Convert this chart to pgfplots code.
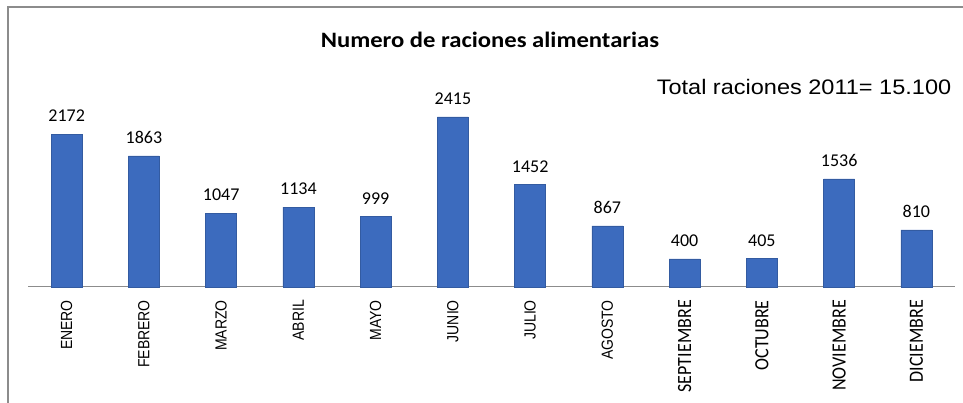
\documentclass[border=0pt]{standalone}
\usepackage{pgfplots}
\pgfplotsset{compat=1.18}
\usepackage{fontspec}
\setmainfont{Liberation Sans}
\newfontfamily\calfont{Carlito}
\definecolor{barblue}{RGB}{60,107,190}
\definecolor{framegray}{RGB}{140,140,140}
\newcommand\ML[1]{\scalebox{1}[1.15]{#1}}
\newcommand\MC[1]{\scalebox{1}[1.12]{\calfont\fontsize{18}{20}\selectfont #1}}
\begin{document}
\begin{tikzpicture}[x=1pt,y=1pt]
\path[use as bounding box] (0,0) rectangle (963,403);
\draw[framegray, line width=1.5pt] (8,0) -- (8,396) -- (963,396);
\node[font=\calfont\bfseries\fontsize{22}{24}\selectfont] at (490,363) {\scalebox{1.12}[1]{Numero de raciones alimentarias}};
\node[font=\fontsize{21}{24}\selectfont] at (804,316) {\scalebox{1.12}[1]{Total raciones 2011= 15.100}};
\begin{axis}[
  at={(28pt,116pt)}, anchor=south west,
  scale only axis, width=927pt, height=211.2pt,
  xmin=-0.5, xmax=11.5, ymin=0, ymax=3000,
  axis x line*=bottom, axis y line=none,
  x axis line style={framegray, line width=1pt},
  xtick={0,...,11}, major tick length=0pt,
  xticklabels={\ML{ENERO},\ML{FEBRERO},\ML{MARZO},\ML{ABRIL},\ML{MAYO},\ML{JUNIO},\ML{JULIO},\ML{AGOSTO},\MC{SEPTIEMBRE},\MC{OCTUBRE},\MC{NOVIEMBRE},\MC{DICIEMBRE}},
  xticklabel style={font=\fontsize{14}{16}\selectfont, rotate=90, anchor=east, inner sep=0pt},
  xticklabel shift=13pt,
  ytick=\empty,
  clip=false,
  ybar, bar width=31pt,
  point meta=explicit symbolic,
  nodes near coords,
  nodes near coords style={font=\calfont\fontsize{18}{20}\selectfont, anchor=south, inner sep=0pt, yshift=12pt},
]
\addplot[fill=barblue, draw=barblue!85!black, line width=0.6pt] coordinates {
 (0,2172) [2172]
 (1,1863) [1863]
 (2,1047) [1047]
 (3,1134) [1134]
 (4,999) [999]
 (5,2415) [2415]
 (6,1452) [1452]
 (7,867) [867]
 (8,400) [400]
 (9,405) [405]
 (10,1536) [1536]
 (11,810) [810]
};
\end{axis}
\end{tikzpicture}
\end{document}
